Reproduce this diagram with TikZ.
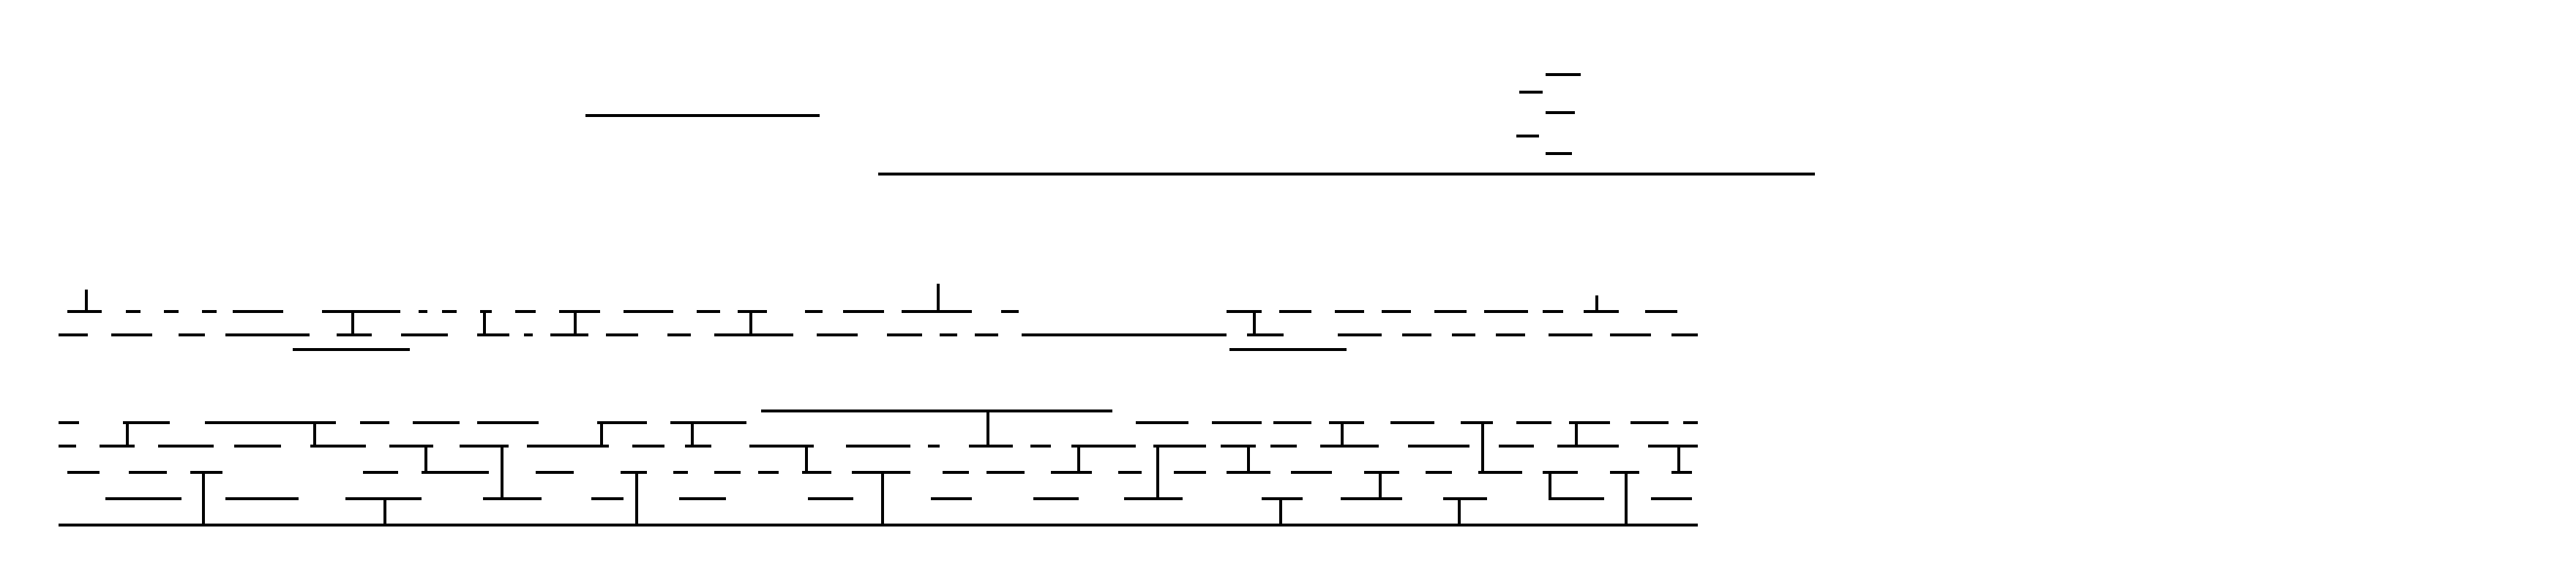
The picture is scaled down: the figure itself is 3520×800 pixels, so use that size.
\documentclass[tikz,border=0pt]{standalone}
\tikzset{bar/.style={draw=black,line width=0.04cm}}
\begin{document}
\begin{tikzpicture}[x=0.01cm,y=-0.01cm]
    \useasboundingbox (0,0) rectangle (3520,800);
    % top lines
    \draw[bar] (800,158) -- (1120,158);
    \draw[bar] (1200,238) -- (2480,238);
    \foreach \a/\b/\y in {2112/2160/102,2076/2108/126,2112/2152/154,2072/2103/186,2112/2148/210}
      \draw[bar] (\a,\y) -- (\b,\y);
    % first block
    \foreach \a/\b in {92/139,172/192,224/244,276/296,318/387,440/547,572/584,604/624,656/672,704/732,764/820,852/920,952/984,1008/1048,1100/1124,1152/1208,1232/1328,1368/1392,1676/1724,1748/1792,1824/1864,1888/1928,1960/2004,2028/2088,2108/2136,2164/2212,2248/2292}
      \draw[bar] (\a,426) -- (\b,426);
    \foreach \a/\b in {80/120,152/208,244/280,308/423,460/508,548/612,652/696,716/728,752/804,828/872,912/944,976/1084,1116/1172,1212/1260,1284/1308,1332/1364,1396/1676,1704/1754,1828/1888,1916/1956,1984/2016,2044/2084,2116/2176,2200/2256,2284/2320}
      \draw[bar] (\a,458) -- (\b,458);
    \draw[bar] (400,478) -- (560,478);
    \draw[bar] (1680,478) -- (1840,478);
    \draw[bar] (118,396) -- (118,426);
    \draw[bar] (1282,388) -- (1282,426);
    \draw[bar] (2182,404) -- (2182,426);
    \foreach \x in {482,662,786,1026,1714}
      \draw[bar] (\x,426) -- (\x,458);
    % second block
    \draw[bar] (1040,562) -- (1520,562);
    \foreach \a/\b in {80/108,168/232,280/459,492/532,564/628,652/736,816/884,916/1020,1552/1624,1656/1724,1740/1792,1816/1864,1900/1960,1996/2040,2072/2120,2144/2200,2228/2280,2300/2320}
      \draw[bar] (\a,578) -- (\b,578);
    \foreach \a/\b in {80/104,136/184,216/292,320/384,424/500,532/592,628/695,720/832,864/908,936/972,1024/1112,1156/1244,1268/1284,1324/1384,1408/1436,1464/1552,1576/1648,1668/1716,1736/1772,1804/1884,1924/2008,2048/2096,2128/2212,2252/2320}
      \draw[bar] (\a,610) -- (\b,610);
    \foreach \a/\b in {92/136,176/228,260/304,496/544,576/668,732/784,848/884,920/940,976/1012,1036/1064,1096/1136,1164/1244,1288/1324,1348/1400,1436/1492,1528/1560,1604/1648,1676/1736,1764/1820,1864/1912,1948/1984,2020/2080,2108/2156,2200/2240,2284/2312}
      \draw[bar] (\a,646) -- (\b,646);
    \foreach \a/\b in {144/248,308/408,472/576,660/740,808/852,928/992,1104/1166,1272/1328,1412/1474,1536/1616,1724/1780,1832/1916,1972/2032,2116/2192,2256/2312}
      \draw[bar] (\a,682) -- (\b,682);
    \draw[bar] (80,718) -- (2320,718);
    \foreach \x/\p/\q in {174/578/610,430/578/610,822/578/610,946/578/610,1834/578/610,2154/578/610,
                          1350/562/610,2026/578/646,
                          582/610/646,1102/610/646,1474/610/646,1706/610/646,2294/610/646,
                          686/610/682,1582/610/682,1886/646/682,2118/646/682,
                          278/646/718,870/646/718,1206/646/718,2222/646/718,
                          526/682/718,1750/682/718,1994/682/718}
      \draw[bar] (\x,\p) -- (\x,\q);
\end{tikzpicture}
\end{document}
